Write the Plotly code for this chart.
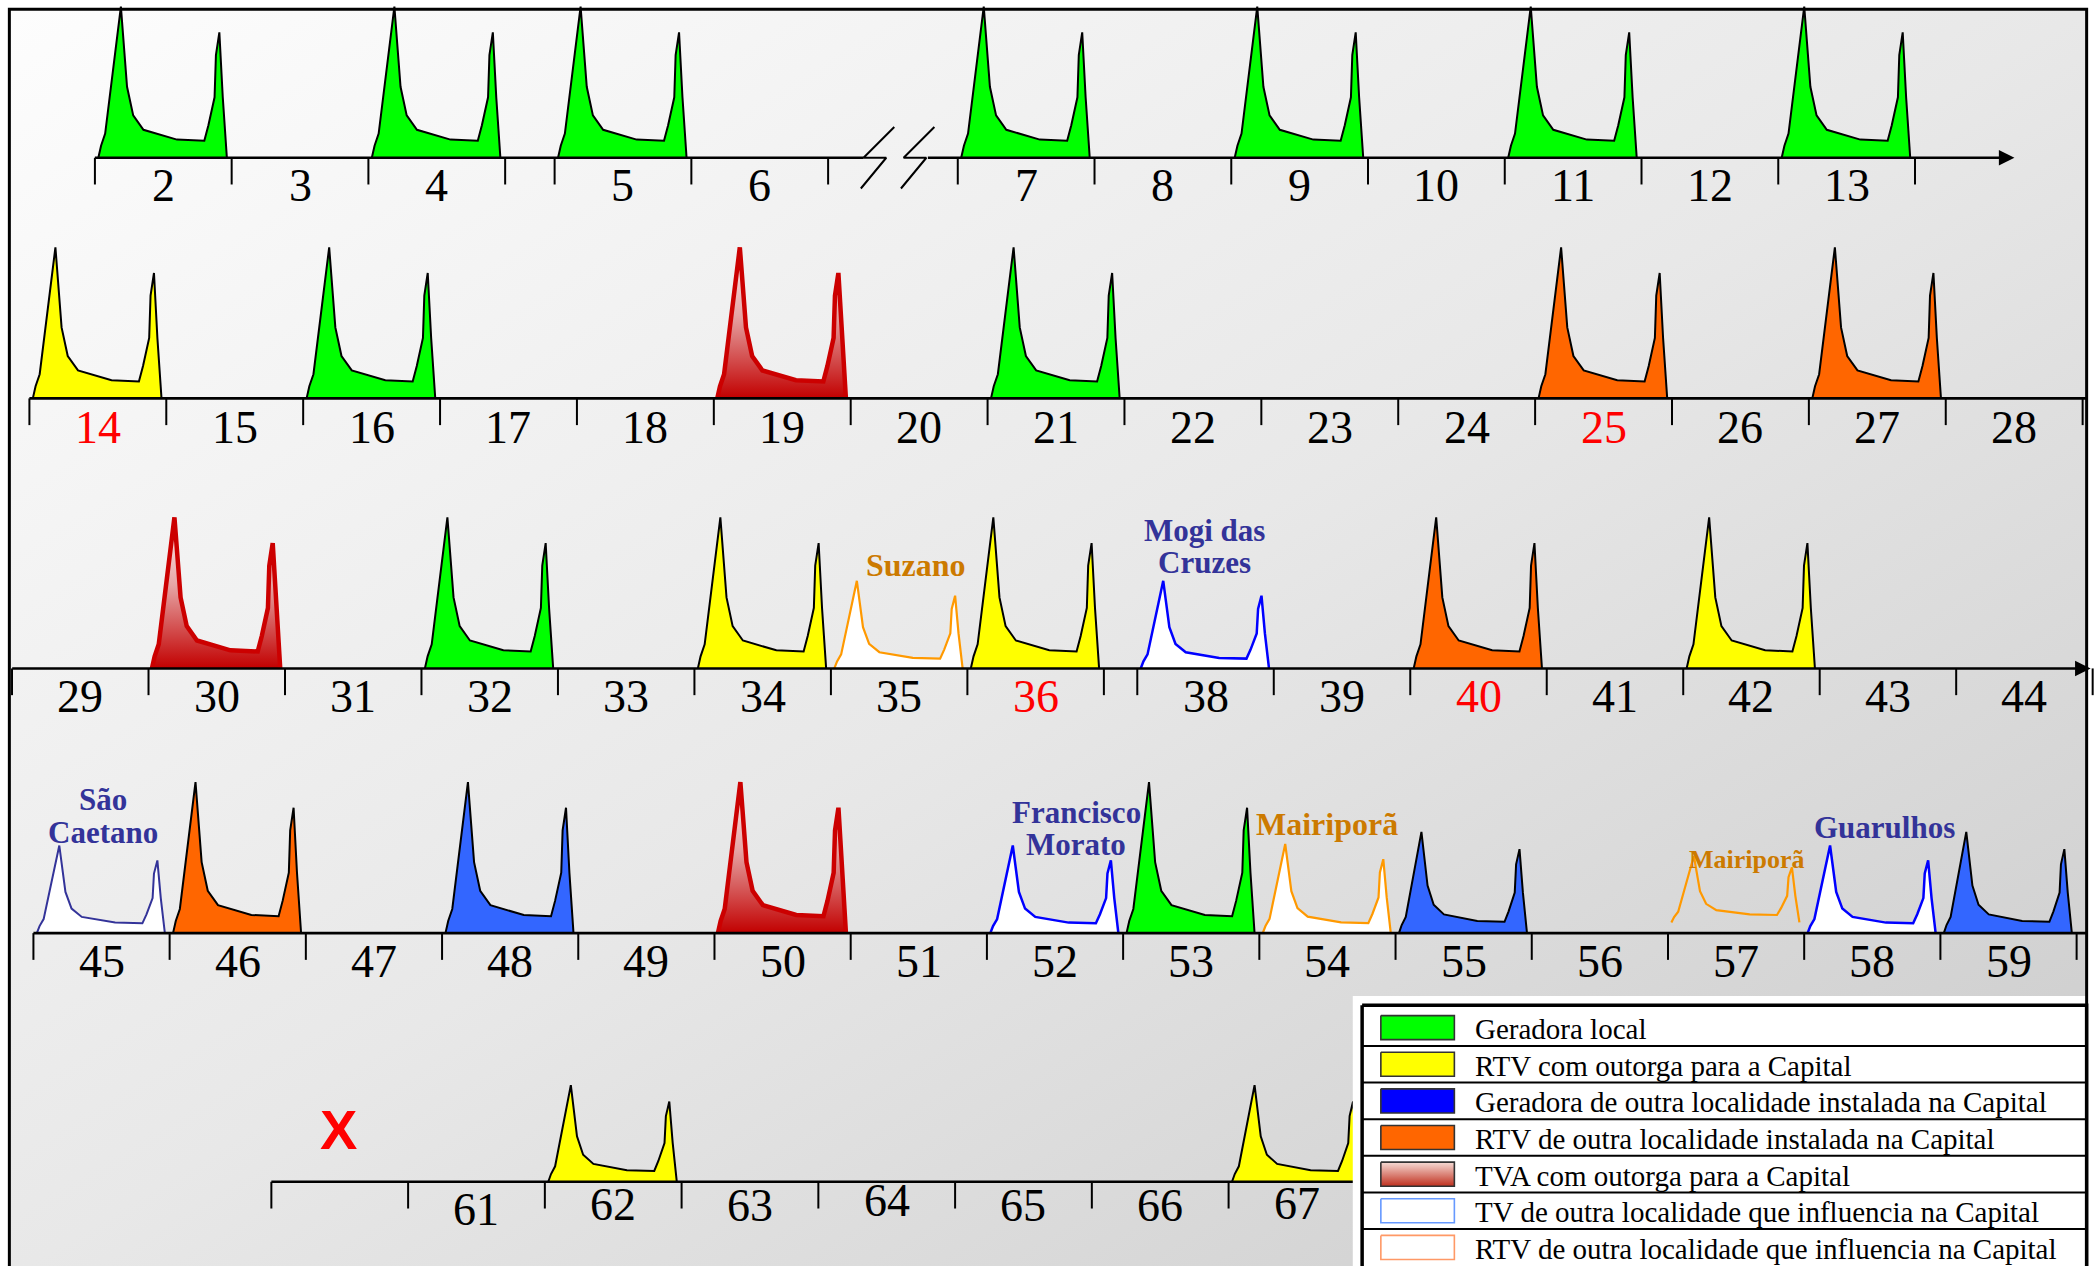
import base64
import plotly.graph_objects as go

# ---------------------------------------------------------------- data
row1_channels = [2, 3, 4, 5, 6, 7, 8, 9, 10, 11, 12, 13]
row1_stations = [2, 4, 5, 7, 9, 11, 13]
row1_kinds = ["local", "local", "local", "local", "local", "local", "local"]
row1_levels = [1.0, 1.0, 1.0, 1.0, 1.0, 1.0, 1.0]

row2_channels = [14, 15, 16, 17, 18, 19, 20, 21, 22, 23, 24, 25, 26, 27, 28]
row2_stations = [14, 16, 19, 21, 25, 27]
row2_kinds = ["rtv_cap", "local", "tva", "local", "rtv_out", "rtv_out"]
row2_levels = [1.0, 1.0, 1.0, 1.0, 1.0, 1.0]

row3_channels = [29, 30, 31, 32, 33, 34, 35, 36, 38, 39, 40, 41, 42, 43, 44]
row3_stations = [30, 32, 34, 35, 36, 38, 40, 42]
row3_kinds = ["tva", "local", "rtv_cap", "rtv_inf", "rtv_cap", "tv_inf", "rtv_out", "rtv_cap"]
row3_levels = [1.0, 1.0, 1.0, 0.58, 1.0, 0.58, 1.0, 1.0]

row4_channels = [45, 46, 47, 48, 49, 50, 51, 52, 53, 54, 55, 56, 57, 58, 59]
row4_stations = [45, 46, 48, 50, 52, 53, 54, 55, 57, 58, 59]
row4_kinds = ["tv_inf_navy", "rtv_out", "ger_out", "tva", "tv_inf", "local",
              "rtv_inf", "ger_out", "rtv_inf_open", "tv_inf", "ger_out"]
row4_levels = [0.58, 1.0, 1.0, 1.0, 0.58, 1.0, 0.59, 0.67, 0.44, 0.58, 0.67]

row5_channels = [60, 61, 62, 63, 64, 65, 66, 67]
row5_labels = ["", "61", "62", "63", "64", "65", "66", "67"]
row5_stations = [62, 67]
row5_kinds = ["rtv_cap", "rtv_cap"]
row5_levels = [0.64, 0.64]

red_channels = [14, 25, 36, 40]
blocked_channel = 60

# spectrum mask outline (fraction of slot width / of peak height)
mask_x = [0.025, 0.045, 0.075, 0.135, 0.19, 0.235, 0.28, 0.355, 0.45, 0.60,
          0.80, 0.83, 0.875, 0.885, 0.91, 0.935, 0.965]
mask_y = [0.00, 0.08, 0.16, 0.58, 1.00, 0.47, 0.28, 0.185, 0.16, 0.12,
          0.112, 0.215, 0.40, 0.68, 0.83, 0.40, 0.00]

city_texts = ["Suzano", "Mogi das", "Cruzes", "São", "Caetano", "Francisco",
              "Morato", "Mairiporã", "Mairiporã", "Guarulhos"]
city_kinds = ["rtv", "tv", "tv", "tv", "tv", "tv", "tv", "rtv", "rtv_small", "tv"]

legend_labels = [
    "Geradora local",
    "RTV com outorga para a Capital",
    "Geradora de outra localidade instalada na Capital",
    "RTV de outra localidade instalada na Capital",
    "TVA com outorga para a Capital",
    "TV de outra localidade que influencia na Capital",
    "RTV de outra localidade que influencia na Capital",
]
legend_kinds = ["local", "rtv_cap", "ger_leg", "rtv_out", "tva", "tv_leg", "rtv_leg"]

# ---------------------------------------------------------------- layout / style
W, H = 2096, 1266
XR, YR = 1568.0, 947.0          # drawing units (scaled to the canvas)
PEAK = 113.0                    # full mask height in drawing units
SERIF = "Liberation Serif, Times New Roman, serif"

ROWS = [
    dict(ch=row1_channels, lab=None, st=row1_stations, kd=row1_kinds, lv=row1_levels,
         base=118, x0=71, w=102.3, gaps={3: 37, 5: 97}, ldy=19),
    dict(ch=row2_channels, lab=None, st=row2_stations, kd=row2_kinds, lv=row2_levels,
         base=298, x0=22, w=102.4, gaps={}, ldy=20),
    dict(ch=row3_channels, lab=None, st=row3_stations, kd=row3_kinds, lv=row3_levels,
         base=500, x0=9, w=102.1, gaps={8: 25}, ldy=19),
    dict(ch=row4_channels, lab=None, st=row4_stations, kd=row4_kinds, lv=row4_levels,
         base=698, x0=25, w=101.9, gaps={}, ldy=19),
    dict(ch=row5_channels, lab=row5_labels, st=row5_stations, kd=row5_kinds, lv=row5_levels,
         base=884, x0=203, w=102.3, gaps={}, ldy=16),
]
LIFT = {57: 8}
LABEL_DY = {61: 3, 64: -4, 62: -1, 67: -2}
AXIS_SEGMENTS = [  # (row, x from, x to, arrow)
    (0, None, 646, False), (0, 693, 1507, True),
    (1, None, 1561, False),
    (2, 8, 1564, True),
    (3, None, 1561, False),
    (4, None, 1020, False),
]
CITY_POS = [(685, 423), (901, 397), (901, 421), (77, 598), (77, 623),
            (805, 608), (805, 632), (993, 616), (1307, 643), (1410, 619)]
CITY_STYLE = {"tv": ("#333399", 31), "rtv": ("#CC7A00", 32), "rtv_small": ("#CC7A00", 26)}

STYLE = {
    "local": dict(fill="#00FF00", line="#000000", lw=2),
    "rtv_cap": dict(fill="#FFFF00", line="#000000", lw=2),
    "ger_out": dict(fill="#3366FF", line="#000000", lw=2),
    "rtv_out": dict(fill="#FF6600", line="#000000", lw=2),
    "tva": dict(fill="grad", line="#CC0000", lw=4.5),
    "tv_inf": dict(fill="#FFFFFF", line="#0000FF", lw=2.5),
    "tv_inf_navy": dict(fill="#FFFFFF", line="#333399", lw=2),
    "rtv_inf": dict(fill="#FFFFFF", line="#FF9900", lw=2.2),
    "rtv_inf_open": dict(fill=None, line="#FF9900", lw=2.2),
}
LEG_STYLE = {
    "local": ("#00FF00", "#333333"),
    "rtv_cap": ("#FFFF00", "#333333"),
    "ger_leg": ("#0000FF", "#333333"),
    "rtv_out": ("#FF6600", "#333333"),
    "tva": ("grad", "#333333"),
    "tv_leg": ("#FFFFFF", "#6699FF"),
    "rtv_leg": ("#FFFFFF", "#FF9966"),
}
TVA_SCALE = [[0, "#FFF4F4"], [0.45, "#E6A4A4"], [1, "#C20000"]]


def slot_starts(row):
    xs, x = [], row["x0"]
    for i in range(len(row["ch"])):
        if i in row["gaps"]:
            x += row["gaps"][i]
        xs.append(x)
        x += row["w"]
    return xs


fig = go.Figure()
annotations = []

# stations (spectrum masks)
for row in ROWS:
    starts = dict(zip(row["ch"], slot_starts(row)))
    for ch, kind, lev in zip(row["st"], row["kd"], row["lv"]):
        s = starts[ch]
        lift = LIFT.get(ch, 0)
        xs = [s + px * row["w"] for px in mask_x]
        ys = [row["base"] - lift - py * lev * PEAK for py in mask_y]
        st = STYLE[kind]
        tr = dict(x=xs, y=ys, mode="lines", hoverinfo="skip", showlegend=False,
                  line=dict(color=st["line"], width=st["lw"]))
        if st["fill"] == "grad":
            tr.update(fill="toself", fillgradient=dict(
                type="vertical", colorscale=TVA_SCALE,
                start=row["base"] - lev * PEAK, stop=row["base"]))
        elif st["fill"]:
            tr.update(fill="toself", fillcolor=st["fill"])
        fig.add_trace(go.Scatter(**tr))

# axes, ticks and channel labels
for ri, row in enumerate(ROWS):
    starts = slot_starts(row)
    b = row["base"]
    tx, ty = [], []
    edges = []
    for s in starts:
        for e in (s, s + row["w"]):
            if all(abs(e - q) > 3 for q in edges):
                edges.append(e)
    if ri == 4:
        edges = [e for e in edges if e < 1000]
    for e in edges:
        tx += [e, e, None]
        ty += [b, b + 20, None]
    fig.add_trace(go.Scatter(x=tx, y=ty, mode="lines", hoverinfo="skip", showlegend=False,
                             line=dict(color="black", width=2)))
    labels = row["lab"] if row["lab"] else [str(c) for c in row["ch"]]
    for ch, lab, s in zip(row["ch"], labels, starts):
        if not lab:
            continue
        annotations.append(dict(
            x=s + row["w"] / 2, y=b + row["ldy"] + LABEL_DY.get(ch, 0) + 2, text=lab,
            showarrow=False, xanchor="center", yanchor="middle",
            font=dict(family=SERIF, size=46, color="#FF0000" if ch in red_channels else "#000000")))
    if blocked_channel in row["ch"]:
        s = starts[row["ch"].index(blocked_channel)]
        annotations.append(dict(x=s + 0.49 * row["w"], y=b - 39, text="<b>X</b>", showarrow=False,
                                font=dict(family="Liberation Sans, Arial, sans-serif", size=56,
                                          color="#FF0000")))

for ri, xa, xb, arrow in AXIS_SEGMENTS:
    row = ROWS[ri]
    xa = row["x0"] if xa is None else xa
    if arrow:
        annotations.append(dict(x=xb, y=row["base"], ax=xa, ay=row["base"], xref="x", yref="y",
                                axref="x", ayref="y", text="", showarrow=True, arrowhead=2,
                                arrowsize=1.2, arrowwidth=2.6, arrowcolor="black", standoff=0))
    else:
        fig.add_trace(go.Scatter(x=[xa, xb], y=[row["base"]] * 2, mode="lines", hoverinfo="skip",
                                 showlegend=False, line=dict(color="black", width=2.6)))

# axis break symbol on first row
b0 = ROWS[0]["base"]
fig.add_trace(go.Scatter(
    x=[669, 646, 663, 644, None, 699, 676, 693, 674],
    y=[b0 - 23, b0, b0, b0 + 23, None, b0 - 23, b0, b0, b0 + 23],
    mode="lines", hoverinfo="skip", showlegend=False, line=dict(color="black", width=2)))

# city names
for txt, kind, (cx, cy) in zip(city_texts, city_kinds, CITY_POS):
    col, size = CITY_STYLE[kind]
    annotations.append(dict(x=cx, y=cy, text="<b>" + txt + "</b>", showarrow=False,
                            xanchor="center", yanchor="middle",
                            font=dict(family=SERIF, size=size, color=col)))

# legend box
LX0, LX1, LTOP, RH = 1019, 1561, 752, 27.4
fig.add_trace(go.Scatter(x=[1012, 1568, 1568, 1012, 1012], y=[745, 745, 960, 960, 745],
                         mode="lines", fill="toself", fillcolor="white", hoverinfo="skip",
                         showlegend=False, line=dict(width=0, color="white")))
fig.add_trace(go.Scatter(x=[LX0, LX1, LX1, LX0, LX0], y=[LTOP, LTOP, 960, 960, LTOP],
                         mode="lines", fill="toself", fillcolor="white", hoverinfo="skip",
                         showlegend=False, line=dict(width=3.5, color="black")))
dx, dy = [], []
for i in range(1, len(legend_labels)):
    yy = LTOP + 3 + i * RH
    dx += [LX0, LX1, None]
    dy += [yy, yy, None]
fig.add_trace(go.Scatter(x=dx, y=dy, mode="lines", hoverinfo="skip", showlegend=False,
                         line=dict(color="black", width=2)))
for i, (lab, kind) in enumerate(zip(legend_labels, legend_kinds)):
    cy = LTOP + 3 + (i + 0.5) * RH
    fillc, linec = LEG_STYLE[kind]
    tr = dict(x=[1033, 1088, 1088, 1033, 1033], y=[cy - 9, cy - 9, cy + 9, cy + 9, cy - 9],
              mode="lines", fill="toself", hoverinfo="skip", showlegend=False,
              line=dict(color=linec, width=1.6))
    if fillc == "grad":
        tr["fillgradient"] = dict(type="vertical", start=cy - 9, stop=cy + 9,
                                  colorscale=[[0, "#F6DCD6"], [1, "#C0301E"]])
    else:
        tr["fillcolor"] = fillc
    fig.add_trace(go.Scatter(**tr))
    annotations.append(dict(x=1102, y=cy + 1, text=lab, showarrow=False, xanchor="left",
                            yanchor="middle", font=dict(family=SERIF, size=29, color="black")))

# background gradient
svg = ('<svg xmlns="http://www.w3.org/2000/svg" width="100" height="100" viewBox="0 0 100 100" '
       'preserveAspectRatio="none"><defs><linearGradient id="g" x1="0" y1="0" x2="1" y2="1">'
       '<stop offset="0" stop-color="#FDFDFD"/><stop offset="0.5" stop-color="#E8E8E8"/>'
       '<stop offset="1" stop-color="#CACACA"/></linearGradient></defs>'
       '<rect x="0" y="0" width="100" height="100" fill="url(#g)"/></svg>')
src = "data:image/svg+xml;base64," + base64.b64encode(svg.encode()).decode()

fig.update_layout(
    width=W, height=H, margin=dict(l=0, r=0, t=0, b=0),
    paper_bgcolor="white", plot_bgcolor="rgba(0,0,0,0)",
    xaxis=dict(range=[0, XR], visible=False, fixedrange=True),
    yaxis=dict(range=[YR, 0], visible=False, fixedrange=True),
    annotations=annotations,
    images=[dict(source=src, xref="paper", yref="paper", x=7 / XR, y=1 - 7 / YR,
                 sizex=(1561 - 7) / XR, sizey=1.0, xanchor="left", yanchor="top",
                 sizing="stretch", layer="below")],
    shapes=[dict(type="rect", xref="x", yref="y", x0=7, x1=1561, y0=7, y1=990,
                 line=dict(color="black", width=3), fillcolor="rgba(0,0,0,0)", layer="above")],
)

fig.write_html("out.html", config={"displayModeBar": False},
               post_script="document.body.style.margin='0px';")
